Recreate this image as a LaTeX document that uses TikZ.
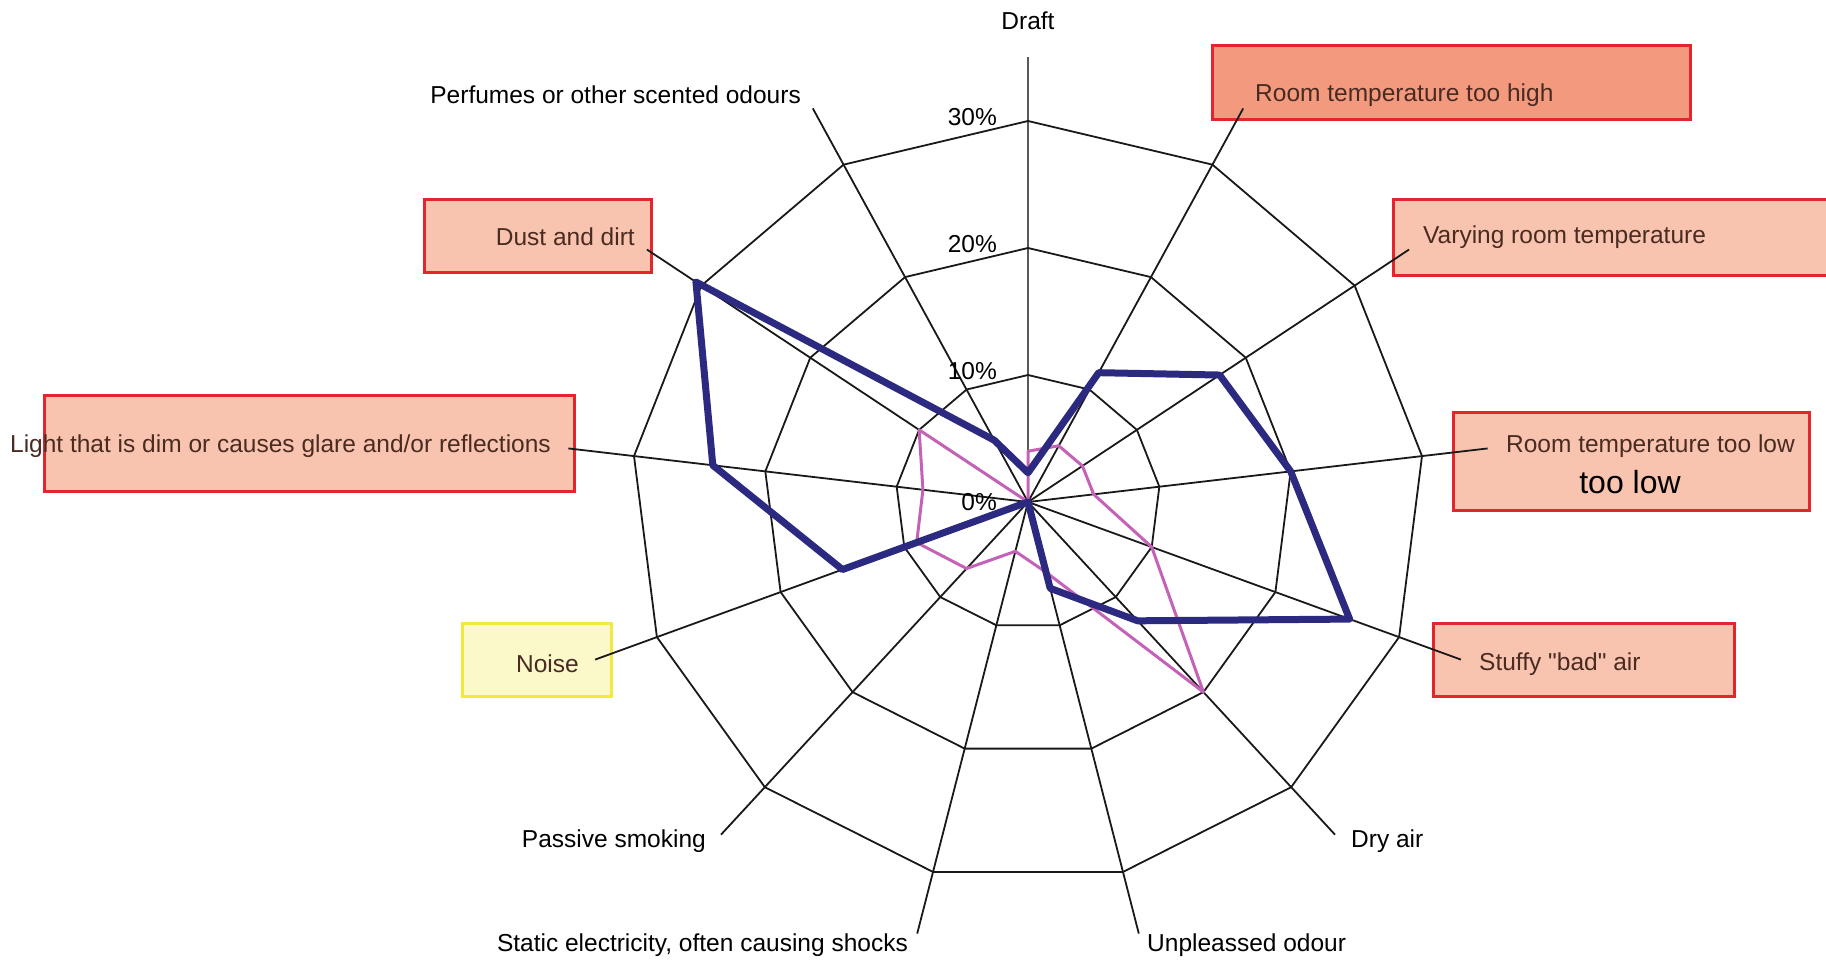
\documentclass[tikz,border=0pt]{standalone}
\usepackage{fontspec}
\newfontfamily\plainsans{Liberation Sans}
\definecolor{navyline}{HTML}{2B2A80}
\definecolor{orchline}{HTML}{C462B8}
\definecolor{boxfill}{HTML}{F9C4AF}
\definecolor{boxfillhi}{HTML}{F39A7E}
\definecolor{boxred}{HTML}{E2262B}
\definecolor{noisefill}{HTML}{FBF8CA}
\definecolor{noisedraw}{HTML}{F1EA3C}
\definecolor{labtext}{HTML}{4A2B22}
\tikzset{
  lab/.style={font=\plainsans\fontsize{24.5}{28}\selectfont, text=black, inner sep=0pt},
  boxlab/.style={lab, text=labtext},
  hlbox/.style={draw=boxred, line width=3pt, fill=boxfill, inner sep=0pt},
  noisebox/.style={draw=noisedraw, line width=3pt, fill=noisefill, inner sep=0pt},
  gridline/.style={line width=1.8pt, black!90},
  ringline/.style={line width=1.8pt, black!90, line join=round},
  seriesA/.style={line width=7pt, navyline, line join=round},
  seriesB/.style={line width=3pt, orchline, line join=round},
  pct/.style={lab, anchor=east}
}
\begin{document}
\begin{tikzpicture}[x=1pt,y=-1pt]
\useasboundingbox (0,0) rectangle (1826,960);
% highlight boxes (behind everything)
\node[hlbox, fill=boxfillhi, minimum width=478pt, minimum height=74pt, anchor=north west] (highbox) at (1211,44) {};
\node[hlbox, minimum width=450pt, minimum height=76pt, anchor=north west] (varbox) at (1392,198) {};
\node[hlbox, minimum width=356pt, minimum height=98pt, anchor=north west] (lowbox) at (1452,411) {};
\node[hlbox, minimum width=301pt, minimum height=73pt, anchor=north west] (stuffbox) at (1432,622) {};
\node[hlbox, minimum width=227pt, minimum height=73pt, anchor=north west] (dustbox) at (423,198) {};
\node[hlbox, minimum width=530pt, minimum height=96pt, anchor=north west] (lightbox) at (43,394) {};
\node[noisebox, minimum width=149pt, minimum height=73pt, anchor=north west] (noisebx) at (461,622) {};

% radar chart
\begin{scope}[shift={(1028,502)}, x=13.23pt, y=12.7pt]
  \coordinate (O) at (0,0);
  \foreach \i in {0,...,12} {
    \coordinate (ax\i) at ({90-\i*360/13}:35);
  }
  \draw[gridline, black!65] (O) -- (ax0);
  \foreach \i in {1,...,12} { \draw[gridline] (O) -- (ax\i); }
  \foreach \r in {10,20,30} {
    \draw[ringline] (90:\r) \foreach \i in {1,...,12} { -- ({90-\i*360/13}:\r) } -- cycle;
  }
  % series
  \draw[seriesB] (90:4) -- ({90-1*360/13}:5) -- ({90-2*360/13}:5) -- ({90-3*360/13}:5)
     -- ({90-4*360/13}:10) -- ({90-5*360/13}:20) -- ({90-6*360/13}:5.7) -- ({90-7*360/13}:4)
     -- ({90-8*360/13}:7) -- ({90-9*360/13}:9) -- ({90-10*360/13}:8) -- ({90-11*360/13}:10)
     -- (O) -- cycle;
  \draw[seriesA] (90:2.3) -- ({90-1*360/13}:11.5) -- ({90-2*360/13}:17.6) -- ({90-3*360/13}:20)
     -- ({90-4*360/13}:26) -- ({90-5*360/13}:12.5) -- ({90-6*360/13}:7) -- (O)
     -- ({90-9*360/13}:15) -- ({90-10*360/13}:24) -- ({90-11*360/13}:30.5)
     -- ({90-12*360/13}:5.5) -- cycle;
\end{scope}

% percent labels
\node[pct] (p30) at (997,117) {30\%};
\node[pct] (p20) at (997,244) {20\%};
\node[pct] (p10) at (997,371) {10\%};
\node[pct] (p0) at (997,502) {0\%};

% category labels
\node[lab] (draft) at (1028,21) {Draft};
\node[boxlab, anchor=west] (high) at (1255,95) {Room temperature too high};
\node[boxlab, anchor=west] (vary) at (1423,237) {Varying room temperature};
\node[boxlab, anchor=east] (low) at (1795,446) {Room temperature too low};
\node[lab, font=\plainsans\fontsize{32}{36}\selectfont] (lowbig) at (1630,482) {too low};
\node[boxlab, anchor=west] (stuffy) at (1479,664) {Stuffy "bad" air};
\node[lab, anchor=west] (dry) at (1351,841) {Dry air};
\node[lab, anchor=west] (unpl) at (1147,945) {Unpleassed odour};
\node[lab, anchor=east] (static) at (908,945) {Static electricity, often causing shocks};
\node[lab, anchor=east] (passive) at (706,841) {Passive smoking};
\node[boxlab, anchor=east] (noise) at (579,664) {Noise};
\node[boxlab, anchor=east] (light) at (551,446) {Light that is dim or causes glare and/or reflections};
\node[boxlab, anchor=east] (dust) at (635,237) {Dust and dirt};
\node[lab, anchor=east] (perf) at (801,95) {Perfumes or other scented odours};
\end{tikzpicture}
\end{document}
